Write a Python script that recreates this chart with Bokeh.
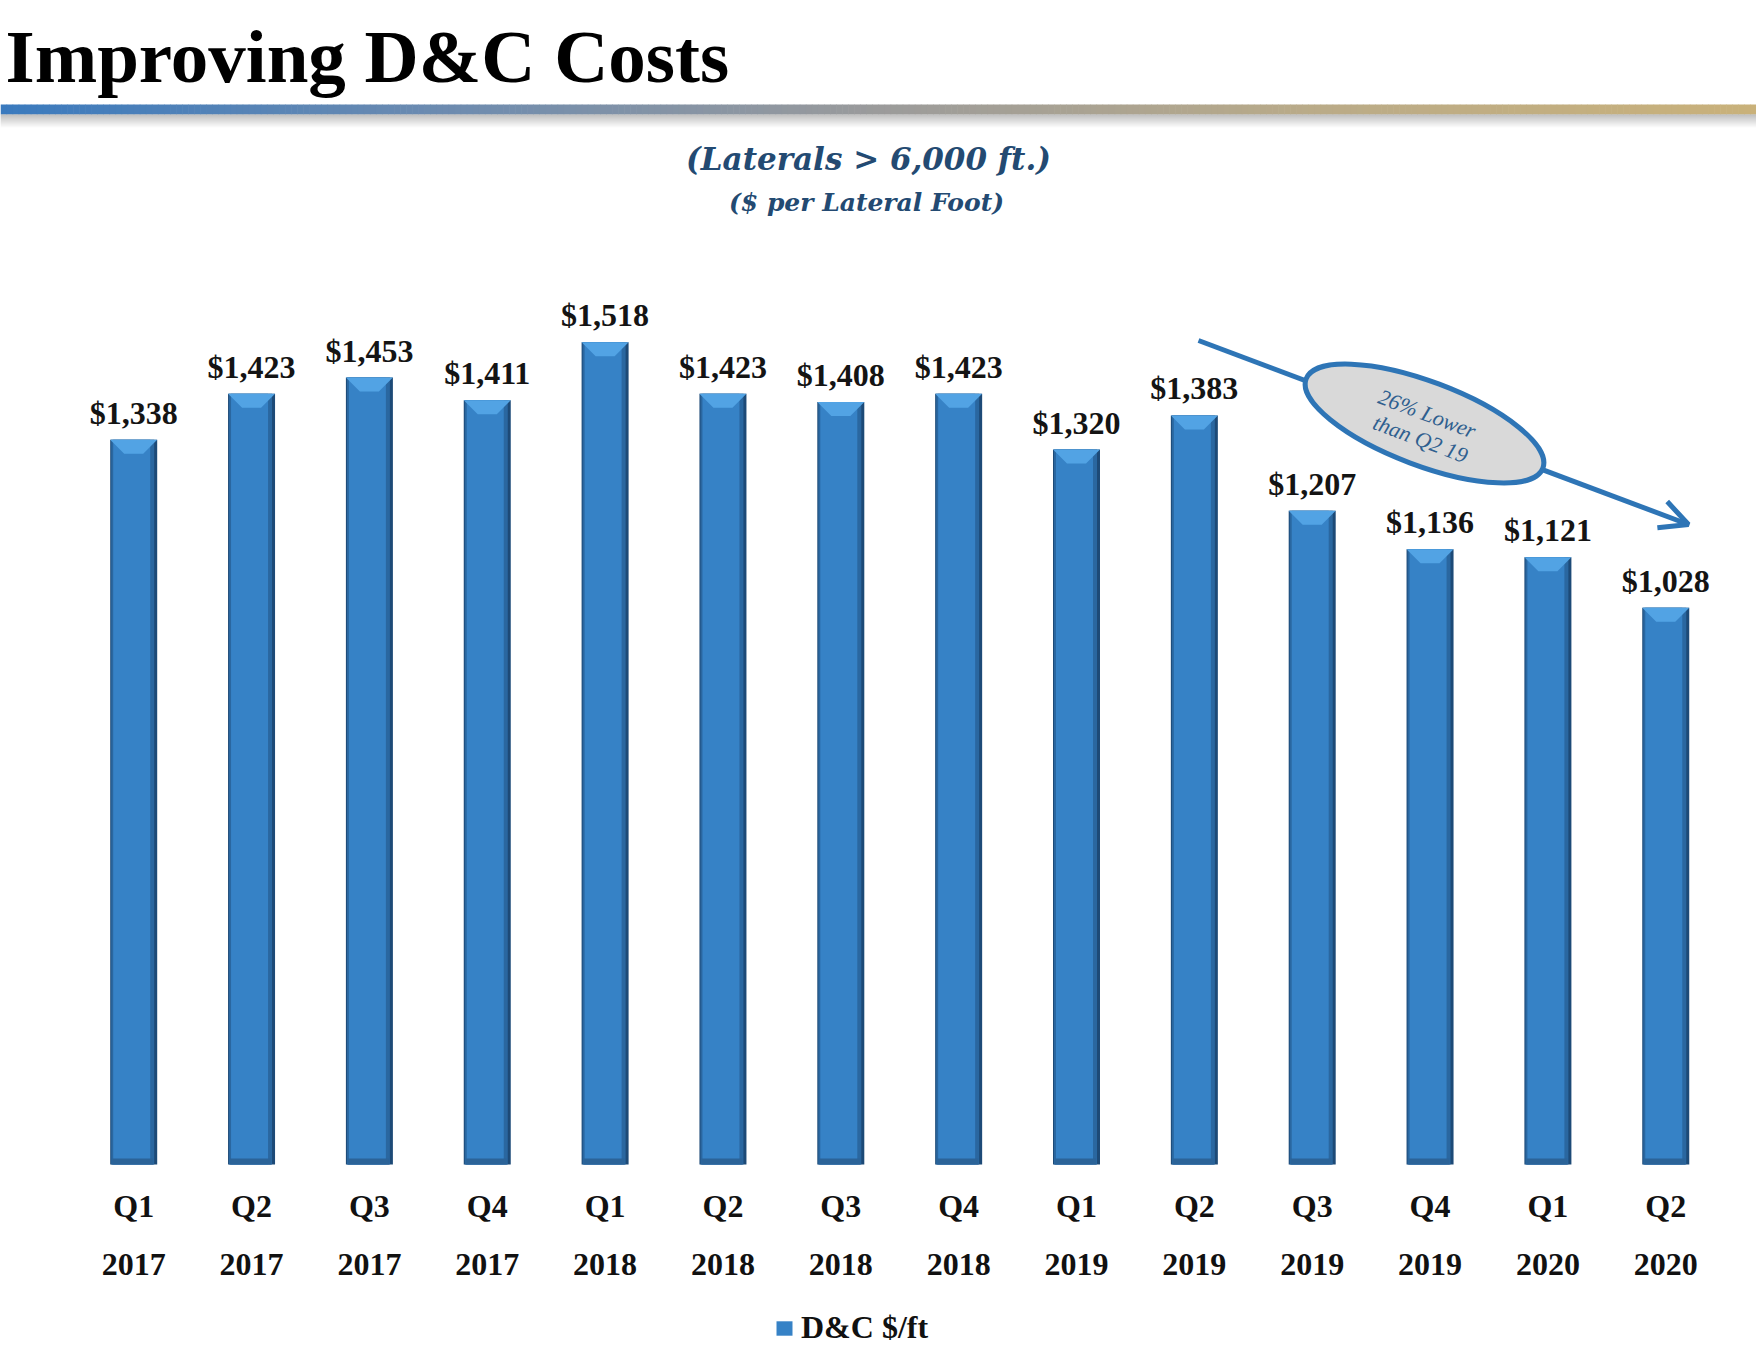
import numpy as np
from bokeh.plotting import figure
from bokeh.models import (ColumnDataSource, Range1d, LabelSet, Label, Arrow, OpenHead,
                          Legend, LegendItem, LinearAxis, FixedTicker, CustomJSTickFormatter)
from bokeh.embed import file_html
from bokeh.resources import INLINE

# ---------------- data ----------------
quarters = ["Q1", "Q2", "Q3", "Q4", "Q1", "Q2", "Q3", "Q4", "Q1", "Q2", "Q3", "Q4", "Q1", "Q2"]
years = ["2017", "2017", "2017", "2017", "2018", "2018", "2018", "2018",
         "2019", "2019", "2019", "2019", "2020", "2020"]
costs = [1338, 1423, 1453, 1411, 1518, 1423, 1408, 1423, 1320, 1383, 1207, 1136, 1121, 1028]
title_text = "Improving D&C Costs"
subtitle_1 = "(Laterals > 6,000 ft.)"
subtitle_2 = "($ per Lateral Foot)"
callout_lines = ["26% Lower", "than Q2 19"]
legend_label = "D&C $/ft"

cost_labels = ["$" + f"{v:,}" for v in costs]
xpos = [float(i) for i in range(len(costs))]

# ---------------- layout constants ----------------
W, H = 1756, 1364
BASE_Y = 1164              # screen y of the bars' baseline
SLOT_PX = 117.85           # pixel distance between bars
FIRST_PX = 133.2           # screen x of first bar centre
PX_PER_DOLLAR = 0.5416
KY = 1.0 / PX_PER_DOLLAR   # data units per pixel (y)
KX = 1.0 / SLOT_PX         # data units per pixel (x)
BAR_PX = 47

SERIF = "Liberation Serif"
NAVY = "#234a72"
ARROW_BLUE = "#2e75b6"


def sy(v):
    """screen y (from top) -> y in the 'px' range (from bottom)"""
    return H - v


p = figure(width=W, height=H,
           x_range=Range1d(-FIRST_PX / SLOT_PX, (W - FIRST_PX) / SLOT_PX),
           y_range=Range1d(-(H - BASE_Y) * KY, BASE_Y * KY),
           output_backend="svg", toolbar_location=None, y_axis_location=None,
           min_border=0)
p.outline_line_color = None
p.grid.visible = False
p.background_fill_color = "white"
p.border_fill_color = "white"
# pixel ranges for the decorative header and the call-out
p.extra_x_ranges = {"px": Range1d(0, W)}
p.extra_y_ranges = {"px": Range1d(0, H)}
PXR = dict(x_range_name="px", y_range_name="px")

# ---------------- header ----------------
stops = [(0.0, (58, 122, 190)), (0.25, (108, 139, 176)), (0.5, (155, 155, 155)),
         (0.75, (186, 171, 136)), (1.0, (201, 177, 122))]
n = 290
xs = np.linspace(0, W, n + 1)
pos = (xs[:-1] + xs[1:]) / 2 / W
sp = [s[0] for s in stops]
band_colors = []
for t in pos:
    rgb = [int(round(np.interp(t, sp, [s[1][c] for s in stops]))) for c in range(3)]
    band_colors.append("#%02x%02x%02x" % tuple(rgb))
p.quad(left=xs[:-1], right=xs[1:] + 0.6, top=sy(104), bottom=sy(114), fill_color=band_colors,
       line_color=None, **PXR)
shadow_rows = np.arange(114, 128)
shade = np.linspace(172, 255, len(shadow_rows))
shadow_colors = ["#%02x%02x%02x" % (int(g), int(g), int(g)) for g in shade]
p.quad(left=0, right=W, top=sy(shadow_rows), bottom=sy(shadow_rows + 1.05),
       fill_color=shadow_colors, line_color=None, **PXR)

p.add_layout(Label(x=5, y=sy(56.4), text=title_text, text_font=SERIF, text_font_style="bold",
                   text_font_size="75px", text_baseline="middle", text_align="left",
                   text_color="#000000", **PXR))
p.add_layout(Label(x=868, y=sy(158.2), text=subtitle_1, text_font="DejaVu Serif",
                   text_font_style="bold italic", text_font_size="31px",
                   text_baseline="middle", text_align="center", text_color=NAVY, **PXR))
p.add_layout(Label(x=866, y=sy(202), text=subtitle_2, text_font="DejaVu Serif",
                   text_font_style="bold italic", text_font_size="25px",
                   text_baseline="middle", text_align="center", text_color=NAVY, **PXR))

# ---------------- bars ----------------
vals = np.array(costs, dtype=float)
xc = np.array(xpos)
hw = BAR_PX / 2 * KX
src = ColumnDataSource(dict(
    x=xc, x_mid=xc - 1.0 * KX, x_face=xc - 2.0 * KX,
    val=vals, label=cost_labels,
    bev_x=[[c - hw, c + hw, c + hw - 14 * KX, c - hw + 14 * KX] for c in xc],
    bev_y=[[v, v, v - 14 * KY, v - 14 * KY] for v in vals],
))
p.vbar(x="x", width=BAR_PX * KX, top="val", bottom=0, source=src,
       fill_color="#1d4a77", line_color=None)
p.vbar(x="x_mid", width=(BAR_PX - 4) * KX, top="val", bottom=0, source=src,
       fill_color="#2a67a0", line_color=None)
face = p.vbar(x="x_face", width=(BAR_PX - 10) * KX, top="val", bottom=0, source=src,
              fill_color="#3682c6", line_color=None)
p.vbar(x="x_mid", width=(BAR_PX - 6) * KX, top=6 * KY, bottom=0, source=src,
       fill_color="#2b6398", line_color=None)
p.patches(xs="bev_x", ys="bev_y", source=src, fill_color="#52a3e4", line_color=None)

labels = LabelSet(x="x", y="val", text="label", source=src, y_offset=16,
                  text_align="center", text_baseline="alphabetic",
                  text_font=SERIF, text_font_style="bold", text_font_size="32px",
                  text_color="#141414")
p.add_layout(labels)

# ---------------- axes (fixed at the bars' baseline): quarter and year ----------------
ax = p.xaxis[0]
ax.ticker = FixedTicker(ticks=xpos)
ax.formatter = CustomJSTickFormatter(args=dict(labels=quarters),
                                     code="return labels[Math.round(tick)];")
ax.fixed_location = 0
ax2 = LinearAxis(ticker=FixedTicker(ticks=xpos), fixed_location=0,
                 formatter=CustomJSTickFormatter(args=dict(labels=years),
                                                 code="return labels[Math.round(tick)];"))
p.add_layout(ax2, "below")
for a, standoff in ((ax, 23), (ax2, 89)):
    a.axis_line_color = None
    a.major_tick_line_color = None
    a.minor_tick_line_color = None
    a.major_tick_in = 0
    a.major_tick_out = 0
    a.minor_tick_in = 0
    a.minor_tick_out = 0
    a.major_label_standoff = standoff
    a.major_label_text_font = SERIF
    a.major_label_text_font_style = "bold"
    a.major_label_text_font_size = "32px"
    a.major_label_text_color = "#111111"

# ---------------- legend ----------------
legend = Legend(items=[LegendItem(label=legend_label, renderers=[face])], location=(774, 18),
                orientation="horizontal", glyph_width=20, glyph_height=18, label_standoff=7,
                label_text_font=SERIF, label_text_font_style="bold",
                label_text_font_size="32px", label_text_color="#111111",
                padding=0, margin=0, border_line_color=None, background_fill_alpha=0)
p.add_layout(legend)

# ---------------- call-out: arrow, ellipse, text ----------------
arrow = Arrow(end=OpenHead(size=28, line_width=5, line_color=ARROW_BLUE),
              x_start=1198, y_start=sy(340), x_end=1688, y_end=sy(524),
              line_color=ARROW_BLUE, line_width=5, **PXR)
p.add_layout(arrow)
p.ellipse(x=[1424], y=[sy(423)], width=253, height=84, width_units="screen",
          height_units="screen", angle=-0.36, fill_color="#d9d9d9",
          line_color=ARROW_BLUE, line_width=5, level="overlay", **PXR)
for (tx, ty), line in zip([(1426.7, 413.3), (1420.0, 438.3)], callout_lines):
    p.add_layout(Label(x=tx, y=sy(ty), text=line, angle=-0.36, text_align="center",
                       text_baseline="middle", text_font=SERIF,
                       text_font_style="italic", text_font_size="22px",
                       text_color="#2f5f8f", level="overlay", **PXR))

open("out.html", "w").write(file_html(p, INLINE))
